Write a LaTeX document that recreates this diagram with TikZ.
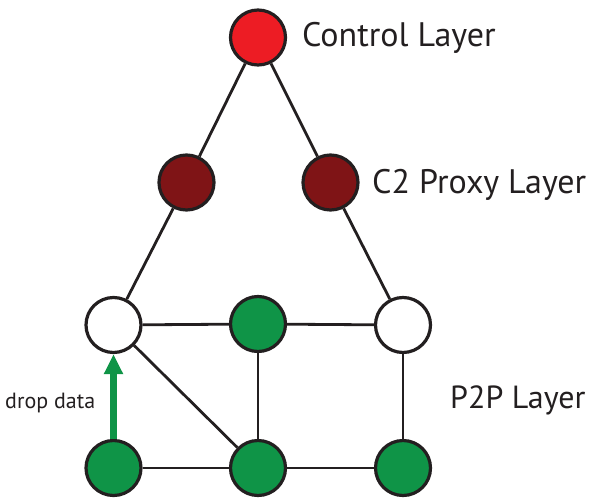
\documentclass[tikz,border=0pt]{standalone}
\usepackage{fontspec}
\setmainfont{PT Sans}
\usetikzlibrary{arrows.meta}
\definecolor{ctrlred}{HTML}{ED1C24}
\definecolor{proxyred}{HTML}{7F1416}
\definecolor{peergreen}{HTML}{0F9447}
\definecolor{strokegray}{HTML}{231F20}
\tikzset{
  peer/.style={circle, draw=strokegray, line width=3.2pt, minimum size=55pt, inner sep=0pt},
  ctrlnode/.style={peer, fill=ctrlred},
  proxynode/.style={peer, fill=proxyred},
  greennode/.style={peer, fill=peergreen},
  whitenode/.style={peer, fill=white},
  link/.style={draw=strokegray, line width=2.8pt},
  layerlabel/.style={anchor=base west, inner sep=0pt, font=\fontsize{34}{38}\selectfont, text=strokegray},
  droparrow/.style={draw=peergreen, line width=7pt, -{Triangle[width=18pt,length=20pt]}}
}
\begin{document}
\begin{tikzpicture}[x=1pt,y=-1pt]
\useasboundingbox (0,0) rectangle (593,500);
\node[ctrlnode] (ctrl) at (258,37.5) {};
\node[proxynode] (pl) at (186.5,182.5) {};
\node[proxynode] (pr) at (330.5,182.5) {};
\node[whitenode] (wl) at (113.5,325) {};
\node[greennode] (gm) at (258,324) {};
\node[whitenode] (wr) at (403,325) {};
\node[greennode] (bl) at (113.5,468) {};
\node[greennode] (bm) at (258,468) {};
\node[greennode] (br) at (403,468) {};
\path[link] (ctrl) -- (pl);
\path[link] (ctrl) -- (pr);
\path[link] (pl) -- (wl);
\path[link] (pr) -- (wr);
\path[link] (wl) -- (gm);
\path[link] (gm) -- (wr);
\path[link] (gm) -- (bm);
\path[link] (wr) -- (br);
\path[link] (wl) -- (bm);
\path[link] (bl) -- (bm);
\path[link] (bm) -- (br);
\path[droparrow] (bl.north) -- (wl.south);
\node[layerlabel] (lc) at (302,47) {Control Layer};
\node[layerlabel] (lp) at (372,193) {C2 Proxy Layer};
\node[layerlabel, font=\fontsize{32}{36}\selectfont] (lq) at (450,408) {P2P Layer};
\node[anchor=base west, inner sep=0pt, font=\fontsize{22}{26}\selectfont, text=strokegray] (ld) at (5,408) {drop data};
\end{tikzpicture}
\end{document}
